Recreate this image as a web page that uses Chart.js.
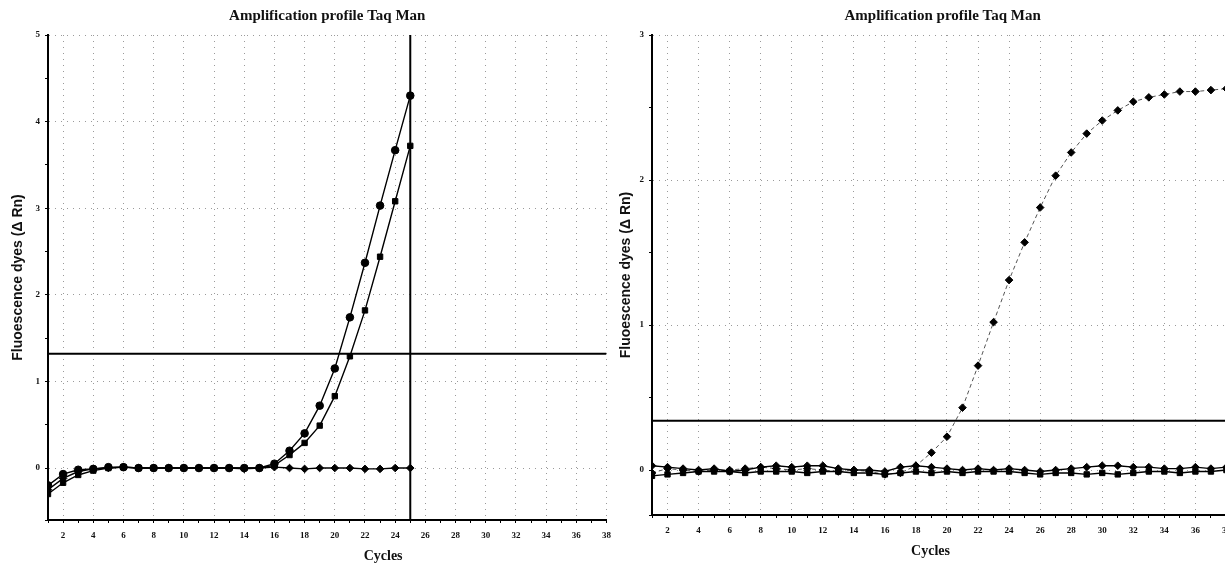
<!DOCTYPE html>
<html>
<head>
<meta charset="utf-8">
<script src="https://cdn.jsdelivr.net/npm/chart.js@4.4.1/dist/chart.umd.min.js"></script>
<style>
  body { margin: 0; background: #fff; }
  #wrap { position: relative; width: 1225px; height: 570px; overflow: hidden; }
  #left { position: absolute; left: 0; top: 0; width: 618px; height: 570px; }
  #right { position: absolute; left: 612px; top: 0; width: 613px; height: 570px; overflow: hidden; }
</style>
</head>
<body>
<div id="wrap">
  <div id="left"><canvas id="leftChart" width="618" height="570"></canvas></div>
  <div id="right"><canvas id="rightChart" width="657" height="570"></canvas></div>
</div>
<script>
// Dados (ciclos x ΔRn)
const chartTitle = "Amplification profile Taq Man";
const yTitle = "Fluoescence dyes (\u0394 Rn)";
const xTitle = "Cycles";

// Gráfico da esquerda: ciclos 1..25
const leftCycles = [1, 2, 3, 4, 5, 6, 7, 8, 9, 10, 11, 12, 13, 14, 15, 16, 17, 18, 19, 20, 21, 22, 23, 24, 25];
const leftCircle = [-0.2, -0.07, -0.02, -0.01, 0.01, 0.01, 0, 0, 0, 0, 0, 0, 0, 0, 0, 0.05, 0.2, 0.4, 0.72, 1.15, 1.74, 2.37, 3.03, 3.67, 4.3];
const leftSquare = [-0.3, -0.17, -0.08, -0.03, 0, 0.01, 0, 0, 0, 0, 0, 0, 0, 0, 0, 0.03, 0.15, 0.29, 0.49, 0.83, 1.29, 1.82, 2.44, 3.08, 3.72];
const leftFlat = [-0.25, -0.12, -0.04, -0.01, 0, 0.01, 0, 0, 0, 0, 0, 0, 0, -0.01, 0, 0.01, 0, -0.01, 0, 0, 0, -0.01, -0.01, 0, 0];
const leftThreshold = 1.32;
const leftCutoff = 25;

// Gráfico da direita: ciclos 1..38
const rightCycles = [1, 2, 3, 4, 5, 6, 7, 8, 9, 10, 11, 12, 13, 14, 15, 16, 17, 18, 19, 20, 21, 22, 23, 24, 25, 26, 27, 28, 29, 30, 31, 32, 33, 34, 35, 36, 37, 38];
const rightAmp = [-0.02, 0.01, 0, -0.01, 0, 0, 0.01, 0.02, 0.01, 0, 0.01, 0, -0.01, 0, -0.01, -0.03, -0.02, 0.03, 0.12, 0.23, 0.43, 0.72, 1.02, 1.31, 1.57, 1.81, 2.03, 2.19, 2.32, 2.41, 2.48, 2.54, 2.57, 2.59, 2.61, 2.61, 2.62, 2.63];
const rightFlatA = [0.03, 0.02, 0.01, 0, 0.01, -0.01, 0, 0.02, 0.03, 0.02, 0.03, 0.03, 0.01, 0, 0, -0.01, 0.02, 0.03, 0.02, 0.01, 0, 0.01, 0, 0.01, 0, -0.01, 0, 0.01, 0.02, 0.03, 0.03, 0.02, 0.02, 0.01, 0.01, 0.02, 0.01, 0.02];
const rightFlatB = [-0.04, -0.03, -0.02, -0.01, -0.01, -0.01, -0.02, -0.01, -0.01, -0.01, -0.02, -0.01, -0.01, -0.02, -0.02, -0.03, -0.02, -0.01, -0.02, -0.01, -0.02, -0.01, -0.01, -0.01, -0.02, -0.03, -0.02, -0.02, -0.03, -0.02, -0.03, -0.02, -0.01, -0.01, -0.02, -0.01, -0.01, 0];
const rightThreshold = 0.34;

function toPoints(xs, ys) {
  return xs.map((x, i) => ({ x: x, y: ys[i] }));
}

// Título e legenda "Cycles" desenhados sobre a área do gráfico
const captionPlugin = {
  id: "caption",
  afterDraw(chart, args, opts) {
    const { ctx, chartArea } = chart;
    const w = chartArea.right - chartArea.left;
    ctx.save();
    ctx.fillStyle = "#111";
    ctx.textAlign = "center";
    ctx.textBaseline = "middle";
    ctx.font = "bold 15px 'Liberation Serif'";
    ctx.fillText(chartTitle, chartArea.left + opts.titleAt * w, 16);
    ctx.font = "bold 14px 'Liberation Serif'";
    ctx.fillText(xTitle, chartArea.left + opts.xTitleAt * w, opts.xTitleY);
    ctx.restore();
  },
};

function lineSet(data, style, dash, color, width) {
  return {
    data: data,
    showLine: true,
    borderColor: color || "#000",
    borderWidth: width || (dash ? 1 : 1.4),
    borderDash: dash || [],
    pointStyle: style,
    pointRadius: style ? 3.8 : 0,
    pointBackgroundColor: "#000",
    pointBorderColor: "#000",
    pointBorderWidth: 1,
  };
}

function buildOptions(cfg) {
  return {
    responsive: false,
    animation: false,
    devicePixelRatio: 1,
    layout: { padding: { top: 35, right: 0, left: 0, bottom: 0 } },
    plugins: {
      legend: { display: false },
      tooltip: { enabled: false },
      caption: cfg.caption,
    },
    scales: {
      x: {
        type: "linear",
        min: 1,
        max: cfg.xMax,
        afterFit: (scale) => { scale.height = cfg.xHeight; },
        ticks: {
          stepSize: 1,
          autoSkip: false,
          maxRotation: 0,
          padding: 7,
          color: "#111",
          font: { family: "Liberation Serif", size: 9, weight: "bold" },
          callback: (v) => (v % 2 === 0 ? v : ""),
        },
        grid: {
          color: (ctx) => (ctx.tick && ctx.tick.value % 2 === 0 ? "#9a9a9a" : "transparent"),
          tickColor: "#000",
          tickLength: 3,
          lineWidth: 1,
        },
        border: { display: true, color: "#000", width: 2, dash: [1, 5] },
      },
      y: {
        min: cfg.yMin,
        max: cfg.yMax,
        afterFit: (scale) => { scale.width = cfg.yWidth; },
        title: {
          display: true,
          text: yTitle,
          color: "#111",
          font: { family: "Liberation Sans", size: 14, weight: "bold" },
          padding: { top: cfg.yTitlePad, bottom: 0 },
        },
        ticks: {
          stepSize: 0.5,
          padding: 5,
          color: "#111",
          font: { family: "Liberation Serif", size: 9, weight: "bold" },
          callback: (v) => (Number.isInteger(v) ? v : ""),
        },
        grid: {
          color: (ctx) => (ctx.tick && Number.isInteger(ctx.tick.value) ? "#9a9a9a" : "transparent"),
          tickColor: "#000",
          tickLength: 3,
          lineWidth: 1,
        },
        border: { display: true, color: "#000", width: 2, dash: [1, 5] },
      },
    },
  };
}

// Gráfico esquerdo
new Chart(document.getElementById("leftChart").getContext("2d"), {
  type: "scatter",
  data: {
    datasets: [
      lineSet([{ x: 1, y: leftThreshold }, { x: 38, y: leftThreshold }], false, null, "#000", 2),
      lineSet([{ x: leftCutoff, y: -0.6 }, { x: leftCutoff, y: 5 }], false, null, "#000", 2),
      lineSet(toPoints(leftCycles, leftFlat), "rectRot"),
      lineSet(toPoints(leftCycles, leftSquare), "rect"),
      lineSet(toPoints(leftCycles, leftCircle), "circle"),
    ],
  },
  options: buildOptions({
    xMax: 38,
    yMin: -0.6,
    yMax: 5,
    xHeight: 50,
    yWidth: 48,
    yTitlePad: 10,
    caption: { titleAt: 0.5, xTitleAt: 0.6, xTitleY: 556 },
  }),
  plugins: [captionPlugin],
});

// Gráfico direito
new Chart(document.getElementById("rightChart").getContext("2d"), {
  type: "scatter",
  data: {
    datasets: [
      lineSet([{ x: 1, y: rightThreshold }, { x: 40, y: rightThreshold }], false, null, "#000", 2),
      lineSet(toPoints(rightCycles, rightFlatB), "rect"),
      lineSet(toPoints(rightCycles, rightFlatA), "rectRot"),
      lineSet(toPoints(rightCycles, rightAmp), "rectRot", [4, 3], "#555"),
    ],
  },
  options: buildOptions({
    xMax: 40,
    yMin: -0.31,
    yMax: 3,
    xHeight: 55,
    yWidth: 40,
    yTitlePad: 6,
    caption: { titleAt: 0.48, xTitleAt: 0.46, xTitleY: 551 },
  }),
  plugins: [captionPlugin],
});
</script>
</body>
</html>
